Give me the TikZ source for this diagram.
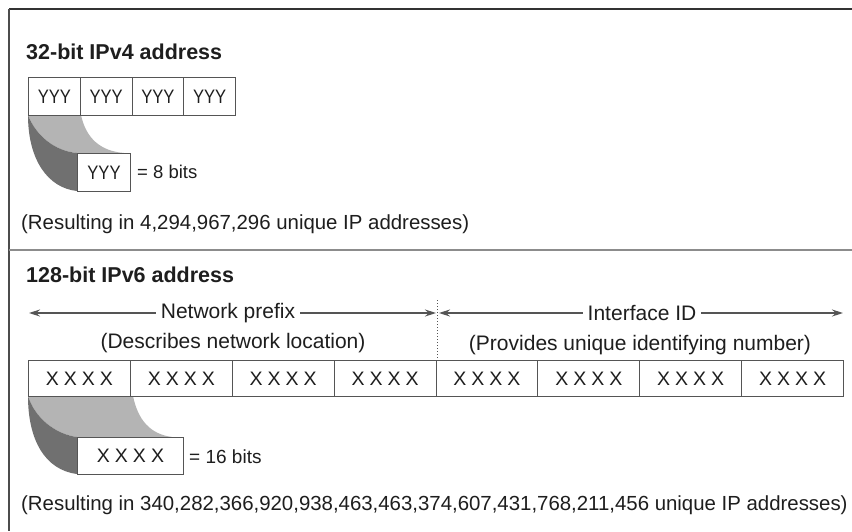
\documentclass[tikz,border=0pt]{standalone}
\usepackage{fontspec}
\usepackage{graphicx}
\setmainfont{Liberation Sans}
\usetikzlibrary{arrows.meta}
\definecolor{facelight}{RGB}{180,180,180}
\definecolor{facedark}{RGB}{112,112,112}
\definecolor{linegray}{RGB}{85,85,85}
\definecolor{textgray}{RGB}{30,30,30}
\tikzset{
  cell4/.style={draw=linegray, line width=1pt, minimum width=51.75pt, minimum height=38pt, inner sep=0pt, anchor=north west, font=\fontsize{19.5}{22}\selectfont, text=textgray},
  cell6/.style={draw=linegray, line width=1pt, minimum width=101.875pt, minimum height=36pt, inner sep=0pt, anchor=north west, font=\fontsize{19.5}{22}\selectfont, text=textgray},
  title/.style={anchor=west, inner sep=0pt, font=\fontsize{21.5}{25}\selectfont\bfseries, text=textgray},
  body/.style={anchor=west, inner sep=0pt, font=\fontsize{20.4}{24}\selectfont, text=textgray},
  lbl/.style={inner sep=5pt, font=\fontsize{21}{24}\selectfont, text=textgray},
  dim/.style={draw=linegray, line width=1.3pt, -{Stealth[length=11pt,width=7pt]}},
}
\newcommand{\yyy}{\scalebox{0.85}[1]{YYY}}
\newcommand{\xxxx}{X\hspace{5pt}X\hspace{5pt}X\hspace{5pt}X}
\begin{document}
\begin{tikzpicture}[x=1pt,y=-1pt]
\useasboundingbox (0,0) rectangle (852,531);
\fill[white] (0,0) rectangle (852,531);
% frame
\draw[line width=2.5pt, draw=black!80] (9,9) -- (852,9);
\draw[line width=1.5pt, draw=black!70] (9,9) -- (9,531);
\draw[line width=2pt, draw=black!45] (9,250) -- (852,250);

% ---------- IPv4 ----------
\node[title] (t4) at (26,52) {32-bit IPv4 address};
% ribbon
\fill[facelight] (28,115) -- (81,115) .. controls (86,138) and (100,151) .. (124,153) -- (77,153) .. controls (55,151) and (36,136) .. (28,115) -- cycle;
\fill[facedark] (28,115) .. controls (36,136) and (55,151) .. (77,153) -- (77,191) .. controls (48,188) and (28,160) .. (28,115) -- cycle;
\node[cell4] (a1) at (28,77) {\yyy};
\node[cell4] (a2) at (79.75,77) {\yyy};
\node[cell4] (a3) at (131.5,77) {\yyy};
\node[cell4] (a4) at (183.25,77) {\yyy};
\node[cell4, minimum width=53pt] (s4) at (77,153) {\yyy};
\node[body, font=\fontsize{18.5}{22}\selectfont] (e4) at (137,172) {= 8 bits};
\node[body] (r4) at (21,224) {(Resulting in 4,294,967,296 unique IP addresses)};

% ---------- IPv6 ----------
\node[title] (t6) at (26,275) {128-bit IPv6 address};
\node[lbl] (np) at (228,313) {Network prefix};
\node[lbl] (npd) at (233,343) {(Describes network location)};
\node[lbl] (iid) at (642,313) {Interface ID};
\node[lbl] (iidd) at (640,345) {(Provides unique identifying number)};
\coordinate (L1) at (29,313);
\coordinate (L2) at (436,313);
\coordinate (R1) at (439,313);
\coordinate (R2) at (843,313);
\coordinate (D1) at (437.5,300);
\coordinate (D2) at (437.5,360);
\draw[dim] (np.west) -- (L1);
\draw[dim] (np.east) -- (L2);
\draw[dim] (iid.west) -- (R1);
\draw[dim] (iid.east) -- (R2);
\draw[draw=linegray, line width=1pt, dotted] (D1) -- (D2);
% ribbon
\fill[facelight] (28,396) -- (133,396) .. controls (138,420) and (150,434) .. (172,437) -- (77,437) .. controls (55,434) and (35,418) .. (28,396) -- cycle;
\fill[facedark] (28,396) .. controls (35,418) and (55,434) .. (77,437) -- (77,474) .. controls (45,470) and (28,440) .. (28,396) -- cycle;
\node[cell6] (b1) at (28,360) {\xxxx};
\node[cell6] (b2) at (129.875,360) {\xxxx};
\node[cell6] (b3) at (231.75,360) {\xxxx};
\node[cell6] (b4) at (333.625,360) {\xxxx};
\node[cell6] (b5) at (435.5,360) {\xxxx};
\node[cell6] (b6) at (537.375,360) {\xxxx};
\node[cell6] (b7) at (639.25,360) {\xxxx};
\node[cell6] (b8) at (741.125,360) {\xxxx};
\node[cell6, minimum width=106pt, minimum height=37pt] (s6) at (77,437) {\xxxx};
\node[body, font=\fontsize{19}{22}\selectfont] (e6) at (189,457) {= 16 bits};
\node[body] (r6) at (21,505) {(Resulting in 340,282,366,920,938,463,463,374,607,431,768,211,456 unique IP addresses)};
\end{tikzpicture}
\end{document}
